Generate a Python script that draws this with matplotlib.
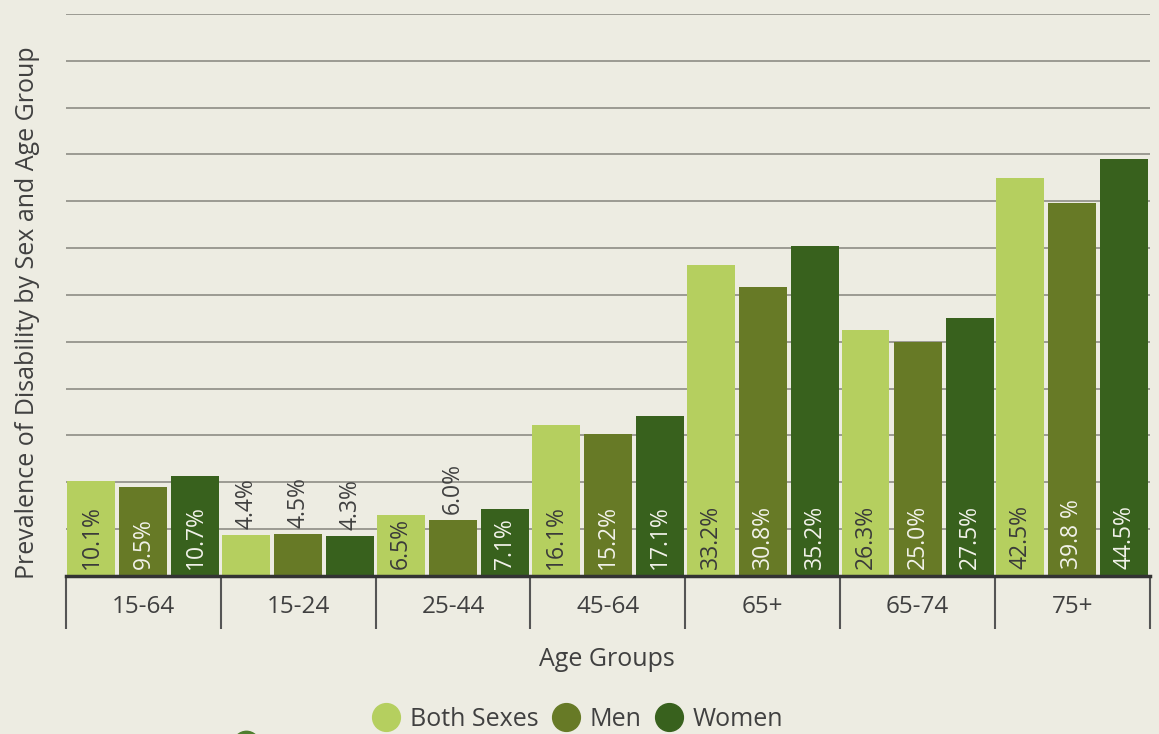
import matplotlib
matplotlib.use('Agg')
import matplotlib.pyplot as plt
from matplotlib.lines import Line2D
import numpy as np

plt.rcParams['font.family'] = ['Open Sans', 'DejaVu Sans']

groups = ['15-64', '15-24', '25-44', '45-64', '65+', '65-74', '75+']
series = ['Both Sexes', 'Men', 'Women']
both = [10.1, 4.4, 6.5, 16.1, 33.2, 26.3, 42.5]
men = [9.5, 4.5, 6.0, 15.2, 30.8, 25.0, 39.8]
women = [10.7, 4.3, 7.1, 17.1, 35.2, 27.5, 44.5]
both_labels = ['10.1%', '4.4%', '6.5%', '16.1%', '33.2%', '26.3%', '42.5%']
men_labels = ['9.5%', '4.5%', '6.0%', '15.2%', '30.8%', '25.0%', '39.8 %']
women_labels = ['10.7%', '4.3%', '7.1%', '17.1%', '35.2%', '27.5%', '44.5%']

colors = ['#b5cf5f', '#677a26', '#38611d']
label_colors = ['#3a3a3a', '#f2f2ea', '#f2f2ea']
bg = '#edece2'
text_c = '#404040'

fig = plt.figure(figsize=(11.59, 7.34), dpi=100, facecolor=bg)
ax = fig.add_axes([0.057, 0.2153, 0.935, 0.7657])
ax.set_facecolor(bg)

x = np.arange(len(groups))
step = 0.336
width = 0.31
for i, (vals, labs) in enumerate(zip([both, men, women],
                                      [both_labels, men_labels, women_labels])):
    pos = x + (i - 1) * step
    ax.bar(pos, vals, width=width, color=colors[i], zorder=3)
    for px, v, lab in zip(pos, vals, labs):
        if v < 6.2:
            # too short: put the label above the bar
            ax.annotate(lab, (px, v), xytext=(0, 4), textcoords='offset points',
                        rotation=90, ha='center', va='bottom',
                        fontsize=16.5, color=text_c, zorder=4)
        else:
            ax.annotate(lab, (px, 0), xytext=(0, 5), textcoords='offset points',
                        rotation=90, ha='center', va='bottom',
                        fontsize=16.5, color=label_colors[i], zorder=4)

ax.set_ylim(0, 60)
ax.set_xlim(-0.5, len(groups) - 0.5)
ax.set_yticks(np.arange(5, 61, 5))
ax.yaxis.grid(True, color='#8d8d85', lw=1.2, zorder=0)
ax.tick_params(axis='y', length=0, labelleft=False)

ax.set_xticks(x)
ax.set_xticklabels(groups, fontsize=17.5, color=text_c)
ax.set_xticks(np.arange(-0.5, len(groups), 1), minor=True)
ax.tick_params(axis='x', which='major', length=0, pad=14)
ax.tick_params(axis='x', which='minor', length=38, width=1.5, color='#555555')

for s in ['top', 'right', 'left']:
    ax.spines[s].set_visible(False)
ax.spines['bottom'].set_color('#333333')
ax.spines['bottom'].set_linewidth(2.5)
ax.spines['bottom'].set_zorder(5)

fig.text(0.024, 0.574, 'Prevalence of Disability by Sex and Age Group',
         rotation=90, ha='center', va='center', fontsize=18, color=text_c)
fig.text(0.524, 1 - 660 / 734, 'Age Groups', ha='center', va='center',
         fontsize=18, color=text_c)

handles = [Line2D([], [], marker='o', ls='', ms=20, color=c) for c in colors]
fig.legend(handles, series, loc='center', bbox_to_anchor=(0.498, 1 - 719 / 734),
           ncol=3, frameon=False, fontsize=18, handletextpad=0.35,
           columnspacing=0.5, labelcolor=text_c, handlelength=1.2)

# cut-off decoration at the bottom edge
fig.add_artist(Line2D([246 / 1159], [-10 / 734], marker='o', ms=19, ls='',
                      color='#4f7f2f', transform=fig.transFigure, clip_on=False))

fig.savefig('out.png', dpi=100, facecolor=bg)
